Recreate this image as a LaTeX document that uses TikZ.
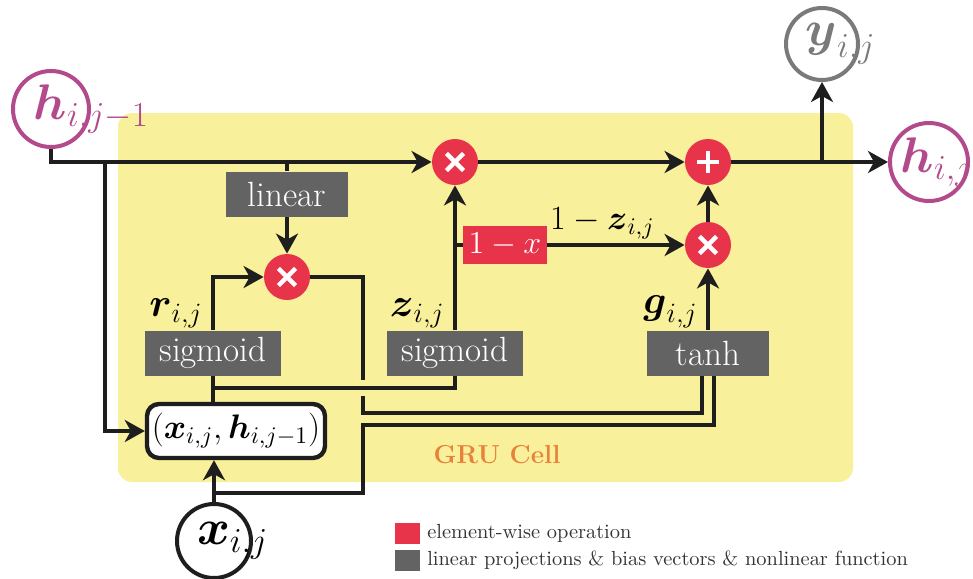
\RequirePackage{fix-cm}
\documentclass[tikz,border=0pt]{standalone}
\usepackage{amsmath}
\usepackage{tikz}
\usetikzlibrary{positioning,arrows.meta,calc}

\definecolor{cellyellow}{HTML}{F8F09A}
\definecolor{opred}{HTML}{E8344B}
\definecolor{fngray}{HTML}{636363}
\definecolor{hmag}{HTML}{B24A8C}
\definecolor{ygray}{HTML}{7A7A7A}
\definecolor{cellorange}{HTML}{E8823A}
\definecolor{wireblack}{HTML}{1E1E1E}
\definecolor{legtextcol}{HTML}{333333}

\begin{document}
\begin{tikzpicture}[x=0.5pt,y=-0.5pt,
  wire/.style={line width=2.2pt,draw=wireblack},
  arr/.style={wire,-{Stealth[length=10pt,width=11pt,inset=3pt]}},
  over/.style={preaction={draw=cellyellow,line width=8pt}},
  cell/.style={rectangle,fill=cellyellow,rounded corners=7pt,minimum width=367.5pt,minimum height=184.5pt},
  var/.style={circle,line width=2pt,minimum size=38pt,inner sep=0pt,font=\fontsize{25}{28}\selectfont},
  fn/.style={rectangle,fill=fngray,text=white,minimum height=22.5pt,inner sep=0pt,font=\fontsize{17.5}{20}\selectfont},
  fnred/.style={rectangle,fill=opred,text=white,minimum width=42pt,minimum height=19pt,inner sep=0pt,font=\fontsize{16}{18}\selectfont},
  pair/.style={rectangle,draw=wireblack,line width=2.2pt,fill=white,rounded corners=6pt,minimum width=89pt,minimum height=27pt,inner sep=0pt,font=\fontsize{17}{20}\selectfont},
  op/.style={circle,fill=opred,minimum size=23pt,inner sep=0pt},
  mul/.style={op,path picture={\draw[white,line width=2.2pt]
    ([shift={(-4.3pt,-4.3pt)}]path picture bounding box.center) -- ([shift={(4.3pt,4.3pt)}]path picture bounding box.center)
    ([shift={(-4.3pt,4.3pt)}]path picture bounding box.center) -- ([shift={(4.3pt,-4.3pt)}]path picture bounding box.center);}},
  add/.style={op,path picture={\draw[white,line width=2.4pt]
    ([xshift=-5.5pt]path picture bounding box.center) -- ([xshift=5.5pt]path picture bounding box.center)
    ([yshift=-5.5pt]path picture bounding box.center) -- ([yshift=5.5pt]path picture bounding box.center);}},
  lbl/.style={inner sep=1pt,font=\fontsize{20}{24}\selectfont},
  legbox/.style={rectangle,minimum width=12.5pt,minimum height=10.5pt,inner sep=0pt},
  legtext/.style={inner sep=0pt,text=legtextcol,font=\fontsize{10.2}{12}\selectfont}]

  \useasboundingbox (0,0) rectangle (973,578);

  \node[cell] (cell) at (485.5,297.5) {};
  \node[font=\fontsize{13}{15}\selectfont\bfseries,text=cellorange] (cellname) at (497,455) {GRU Cell};

  % inputs and outputs
  \node[var,draw=hmag,text=hmag] (hprev) at (51,109) {$\boldsymbol{h}_{\rlap{$\scriptstyle i,j-1$}}$};
  \node[var,draw=ygray,text=ygray,minimum size=36pt] (yout) at (822,44) {$\boldsymbol{y}_{\rlap{$\scriptstyle i,j$}}$};
  \node[var,draw=hmag,text=hmag,minimum size=39pt] (hnext) at (929,162) {$\boldsymbol{h}_{\rlap{$\scriptstyle i,j$}}$\kern11pt};
  \node[var,draw=wireblack,minimum size=37pt] (xin) at (214,541) {$\boldsymbol{x}_{\rlap{$\scriptstyle i,j$}}$};
  \node[pair] (xh) at (236,431) {$(\boldsymbol{x}_{i,j},\boldsymbol{h}_{i,j-1})$};

  % projections and element-wise ops
  \node[fn,minimum width=61pt] (linear) at (287,194) {linear};
  \node[fn,minimum width=68pt] (sigr) at (213,353) {sigmoid};
  \node[fn,minimum width=68pt] (sigz) at (455,353) {sigmoid};
  \node[fn,minimum width=61pt] (tanh) at (708,353) {tanh};
  \node[fnred] (oneminus) at (505,245) {$1-x$};
  \node[mul] (mulh) at (455,162) {};
  \node[mul] (mulr) at (287,277) {};
  \node[mul] (mulz) at (708,245) {};
  \node[add] (addh) at (708,162) {};

  \node[lbl,above left=0pt and 4pt of sigr.north] (rlabel) {$\boldsymbol{r}_{i,j}$};
  \node[lbl,above left=0pt and 4pt of sigz.north] (zlabel) {$\boldsymbol{z}_{i,j}$};
  \node[lbl,above left=0pt and 4pt of tanh.north] (glabel) {$\boldsymbol{g}_{i,j}$};

  \coordinate (hsplit) at (105,162);
  \coordinate (lsplit) at (287,162);
  \coordinate (osplit) at (822,162);
  \coordinate (zsplit) at (455,245);
  \coordinate (xsplit) at (214,493);
  \coordinate (rsplit) at (213,388);

  \draw[arr] (hprev.south) |- (mulh);
  \draw[arr] (hsplit) |- (xh.west);
  \draw[wire] (lsplit) -- (linear);
  \draw[arr] (linear) -- (mulr);
  \draw[arr] (mulh) -- (addh);
  \draw[arr] (addh) -- (hnext);
  \draw[arr] (osplit) -- (yout);

  \draw[arr] (sigr) |- (mulr);
  \draw[arr] (sigz) -- (mulh);
  \draw[wire] (zsplit) -- (oneminus);
  \draw[arr] (oneminus) -- node[pos=0.4,above=1pt,inner sep=1pt,font=\fontsize{17}{20}\selectfont] {$1-\boldsymbol{z}_{i,j}$} (mulz);
  \draw[arr] (tanh) -- (mulz);
  \draw[arr] (mulz) -- (addh);

  \draw[arr] (xin) -- (xin |- xh.south);
  \draw[wire] (mulr) -| (363,413) -| ([xshift=-3pt]tanh.south);
  \draw[wire,over] (rsplit) -| (sigz);
  \draw[wire] (xh.north -| sigr) -- (sigr);
  \draw[wire] (xsplit) -| (363,425) -| ([xshift=3pt]tanh.south);

  % legend
  \node[legbox,fill=opred] (legop) at (407,533) {};
  \node[legbox,fill=fngray] (legfn) at (407,560) {};
  \node[legtext,right=3.5pt of legop] (legoptext) {element-wise operation};
  \node[legtext,right=3.5pt of legfn] (legfntext) {linear projections \& bias vectors \& nonlinear function};
\end{tikzpicture}
\end{document}
